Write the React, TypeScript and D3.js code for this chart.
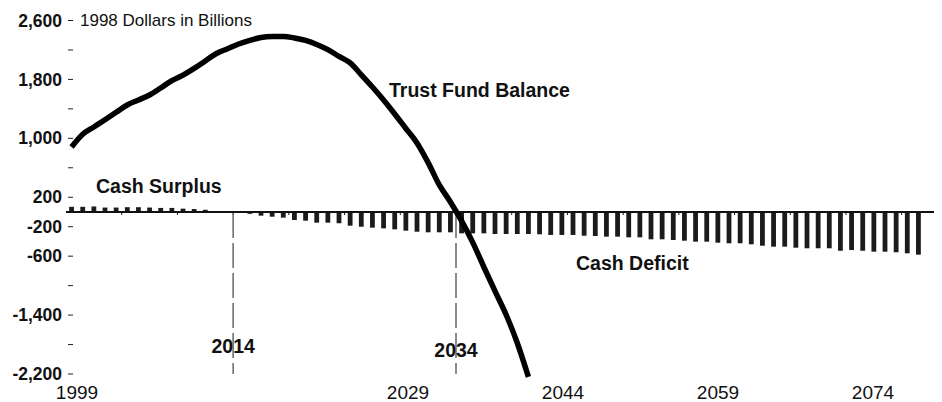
import React from 'react';
import * as d3 from 'd3';

// 1998 dollars, billions
const firstYear = 1999;

const cashFlow = [
  70, 70, 75, 60, 60, 65, 65, 60, 55, 55,
  45, 40, 30, 10, 0, -10, -25, -50, -64, -77,
  -109, -118, -145, -145, -153, -186, -200, -213, -222, -236,
  -254, -268, -276, -276, -276, -290, -290, -290, -299, -299,
  -299, -299, -303, -312, -312, -312, -322, -326, -335, -335,
  -344, -344, -371, -371, -380, -390, -403, -403, -417, -425,
  -425, -439, -458, -471, -471, -485, -493, -493, -493, -526,
  -516, -526, -539, -539, -547, -561, -580,
];

const trustFund = [
  883, 1055, 1154, 1253, 1354, 1453, 1521, 1589, 1684, 1783,
  1858, 1949, 2050, 2152, 2216, 2281, 2330, 2370, 2383, 2383,
  2363, 2329, 2275, 2204, 2113, 2023, 1863, 1697, 1521, 1331,
  1134, 937, 670, 367, 136, -121, -413, -747, -1075, -1395,
  -1779, -2240,
];

const yTicks = [-2200, -1800, -1400, -1000, -600, -200, 200, 600, 1000, 1400, 1800, 2200, 2600];
const yLabels = [2600, 1800, 1000, 200, -200, -600, -1400, -2200];
const xLabels = [1999, 2029, 2044, 2059, 2074];
const markerYears = [2014, 2034];

const width = 942;
const height = 402;
const margin = { top: 20.5, right: 18, bottom: 28, left: 66 };
const font = '"Liberation Sans", Arial, Helvetica, sans-serif';

const fmt = d3.formatLocale({
  decimal: '.', thousands: ',', grouping: [3], currency: ['$', ''], minus: '-',
}).format(',');

export default function App() {
  const years = cashFlow.map((_, i) => firstYear + i);

  const x = d3.scaleBand<number>()
    .domain(years)
    .range([margin.left, width - margin.right])
    .paddingInner(0.57)
    .paddingOuter(0.285);

  const y = d3.scaleLinear()
    .domain([-2200, 2600])
    .range([height - margin.bottom, margin.top]);

  // the bottom year labels sit on their own spacing in the original
  const xLab = d3.scaleLinear()
    .domain([1999, 2029, 2074])
    .range([margin.left + 11, margin.left + 342, width - margin.right - 51]);

  const edge = (yr: number) => (x(yr) as number) - (x.step() * x.paddingInner()) / 2;
  const mid = (yr: number) => (x(yr) as number) + x.bandwidth() / 2;

  const line = d3.line<number>()
    .x((_, i) => mid(firstYear + i))
    .y(d => y(d))
    .curve(d3.curveMonotoneX);

  const y0 = y(0);
  const axisEnd = width - 8;

  return (
    <svg width={width} height={height} style={{ position: 'absolute', left: 0, top: 0, background: '#fff' }}
      fontFamily={font}>
      {/* y ticks */}
      {yTicks.map(t => (
        <line key={'t' + t} x1={margin.left + 2} x2={margin.left + 7} y1={y(t)} y2={y(t)} stroke="#222" strokeWidth={1} />
      ))}
      {yLabels.map(t => (
        <text key={'l' + t} x={margin.left - 4} y={y(t)} dy="0.35em" textAnchor="end"
          fontSize={17.5} fontWeight="bold" fill="#111">{fmt(t)}</text>
      ))}
      <text x={margin.left + 14} y={y(2600)} dy="0.35em" fontSize={17} fill="#111">1998 Dollars in Billions</text>

      {/* bars */}
      {cashFlow.map((v, i) => (
        <rect key={'b' + i} x={x(firstYear + i)} width={x.bandwidth()}
          y={Math.min(y(v), y0)} height={Math.abs(y(v) - y0)} fill="#1c1a1b" />
      ))}

      {/* baseline */}
      <line x1={margin.left} x2={axisEnd} y1={y0} y2={y0} stroke="#111" strokeWidth={2} />
      {years.filter((_, i) => i % 5 === 0 && i > 0).map(yr => (
        <line key={'n' + yr} x1={edge(yr)} x2={edge(yr)} y1={y0} y2={y0 + 3} stroke="#111" strokeWidth={1} />
      ))}

      {/* marker lines */}
      {markerYears.map(yr => (
        <line key={'m' + yr} x1={edge(yr)} x2={edge(yr)} y1={y0 + 1} y2={y(-2200)}
          stroke="#707070" strokeWidth={1.6} strokeDasharray="25,5" />
      ))}

      {/* trust fund */}
      <path d={line(trustFund) ?? ''} fill="none" stroke="#000" strokeWidth={5.5} />

      {/* annotations */}
      <text x={389} y={97} fontSize={19.5} fontWeight="bold" fill="#111">Trust Fund Balance</text>
      <text x={96} y={193} fontSize={19.5} fontWeight="bold" fill="#111">Cash Surplus</text>
      <text x={576} y={270} fontSize={19.5} fontWeight="bold" fill="#111">Cash Deficit</text>
      {markerYears.map((yr, i) => (
        <text key={'a' + yr} x={edge(yr)} y={i === 0 ? 353 : 357} textAnchor="middle"
          fontSize={19.5} fontWeight="bold" fill="#111">{yr}</text>
      ))}

      {/* x labels */}
      {xLabels.map(yr => (
        <text key={'x' + yr} x={xLab(yr)} y={399} textAnchor="middle" fontSize={19} fill="#111">{yr}</text>
      ))}
    </svg>
  );
}
